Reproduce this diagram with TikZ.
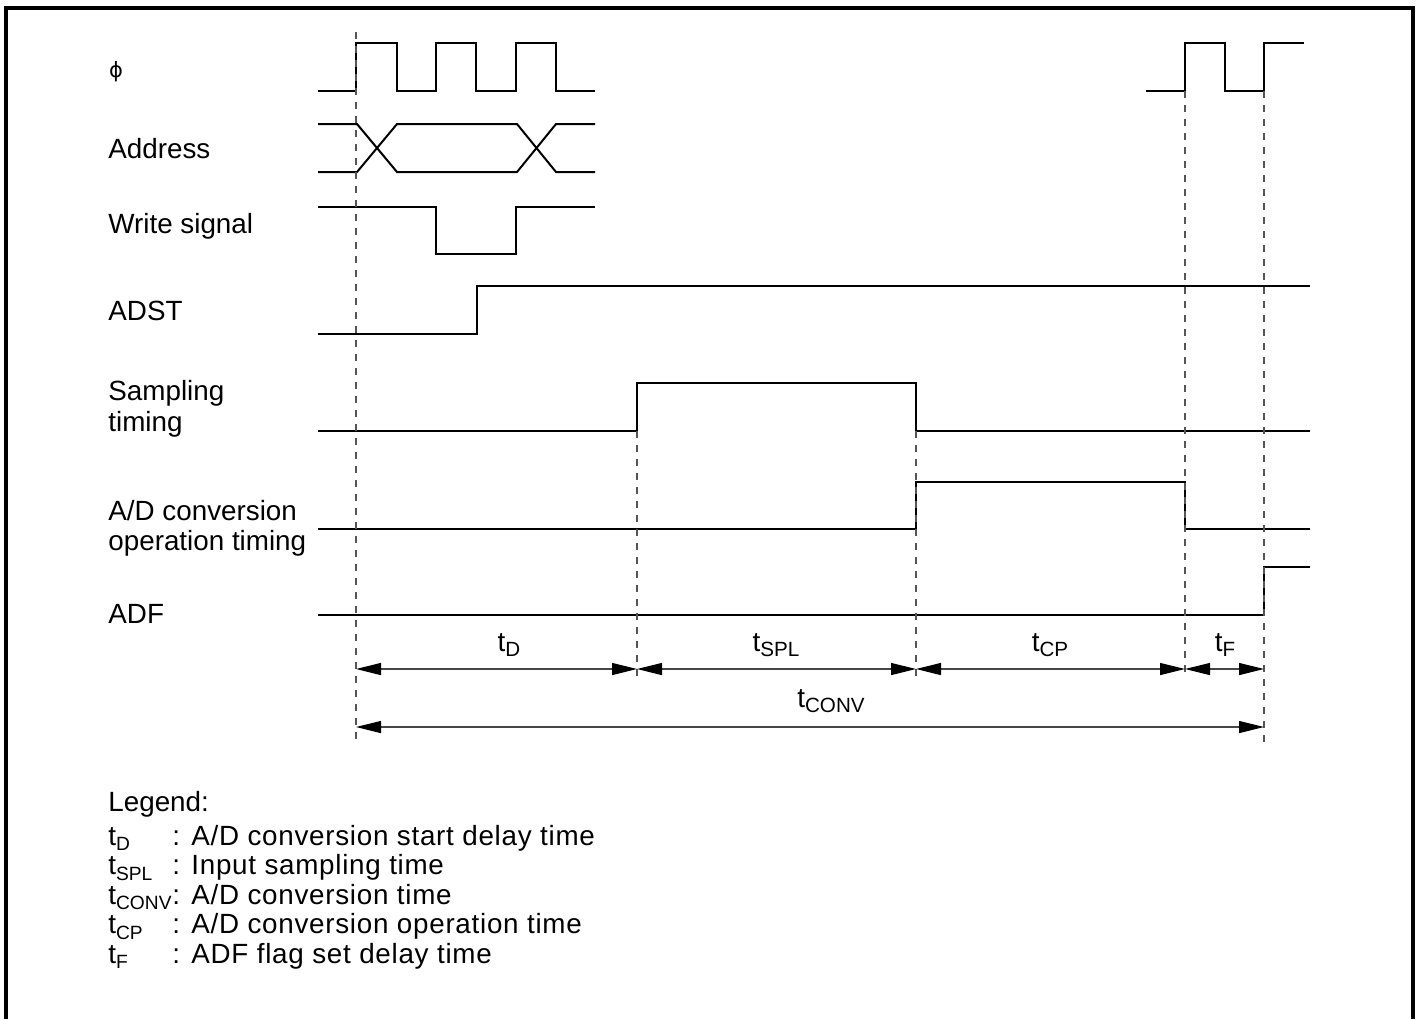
\documentclass[tikz,border=0pt]{standalone}
\usepackage{fontspec}
\setmainfont{Liberation Sans}
\newfontfamily\symfont{DejaVu Sans}
\newfontfamily\legfont[LetterSpace=2.6]{Liberation Sans}
\usepackage{xcolor}
\definecolor{guidegray}{RGB}{85,85,85}
\definecolor{dimgray}{RGB}{70,70,70}
\usetikzlibrary{arrows.meta}
\newcommand{\tsub}[1]{t\raisebox{-0.2em}{\fontsize{10.3}{12}\selectfont #1}}
\newcommand{\tleg}[1]{t\raisebox{-0.2em}{\fontsize{9.6}{12}\selectfont #1}}

\begin{document}
\begin{tikzpicture}[x=0.5pt, y=-0.5pt,
  sig/.style={line width=1pt, black},
  guide/.style={guidegray, line width=0.55pt, dash pattern=on 3.5pt off 3.5pt},
  dim/.style={dimgray, line width=0.6pt, {Triangle[length=12.5pt,width=6pt,black]}-{Triangle[length=12.5pt,width=6pt,black]}},
  lbl/.style={anchor=base west, inner sep=0pt, font=\fontsize{13.9}{15.5}\selectfont},
  tlbl/.style={anchor=base, inner sep=0pt, font=\fontsize{13.9}{15.5}\selectfont}]
  \useasboundingbox (0,0) rectangle (1417,1019);

  % Frame (open at the bottom)
  \draw[line width=1.75pt] (6,1019) -- (6,8) -- (1413,8) -- (1413,1019);

  % Signal names
  \node[inner sep=0pt, font=\symfont\fontsize{10.5}{12}\selectfont] (nPhi) at (116,72) {ϕ};
  \node[lbl] (nAddr) at (108,158) {Address};
  \node[lbl] (nWr) at (108,233) {Write signal};
  \node[lbl] (nAdst) at (108,320) {ADST};
  \node[lbl] (nSmpA) at (108,400) {Sampling};
  \node[lbl] (nSmpB) at (108,431) {timing};
  \node[lbl] (nConvA) at (108,520) {A/D conversion};
  \node[lbl] (nConvB) at (108,550) {operation timing};
  \node[lbl] (nAdf) at (108,623) {ADF};

  % Clock
  \draw[sig] (318,91) -- (356,91) -- (356,43) -- (397,43) -- (397,91) -- (436,91) -- (436,43)
    -- (476,43) -- (476,91) -- (516,91) -- (516,43) -- (556,43) -- (556,91) -- (595,91);
  \draw[sig] (1146,91) -- (1185,91) -- (1185,43) -- (1225,43) -- (1225,91) -- (1264,91)
    -- (1264,43) -- (1304,43);

  % Address
  \draw[sig] (318,124) -- (357,124) -- (397,172) -- (517,172) -- (556,124) -- (595,124);
  \draw[sig] (318,172) -- (357,172) -- (397,124) -- (517,124) -- (556,172) -- (595,172);

  % Write signal
  \draw[sig] (318,207) -- (436,207) -- (436,254) -- (516,254) -- (516,207) -- (595,207);

  % ADST
  \draw[sig] (318,334) -- (477,334) -- (477,286) -- (1310,286);

  % Sampling timing
  \draw[sig] (318,431) -- (637,431) -- (637,383) -- (916,383) -- (916,431) -- (1310,431);

  % A/D conversion operation timing
  \draw[sig] (318,529) -- (916,529) -- (916,482) -- (1185,482) -- (1185,529) -- (1310,529);

  % ADF
  \draw[sig] (318,615) -- (1264,615) -- (1264,567) -- (1310,567);

  % Guide lines
  \draw[guide] (356,32) -- (356,746);
  \draw[guide] (637,431) -- (637,677);
  \draw[guide] (916,431) -- (916,677);
  \draw[guide] (1185,91) -- (1185,672);
  \draw[guide] (1264,91) -- (1264,746);

  % Dimension points
  \coordinate (d0) at (356,669);
  \coordinate (d1) at (637,669);
  \coordinate (d2) at (916,669);
  \coordinate (d3) at (1185,669);
  \coordinate (d4) at (1264,669);
  \coordinate (c0) at (356,727);
  \coordinate (c1) at (1264,727);

  \draw[dim] (d0) -- (d1);
  \draw[dim] (d1) -- (d2);
  \draw[dim] (d2) -- (d3);
  \draw[dim] (d3) -- (d4);
  \draw[dim] (c0) -- (c1);

  \node[tlbl] (lD) at (509,651) {\tsub{D}};
  \node[tlbl] (lSPL) at (776,651) {\tsub{SPL}};
  \node[tlbl] (lCP) at (1050,651) {\tsub{CP}};
  \node[tlbl] (lF) at (1225,651) {\tsub{F}};
  \node[tlbl] (lCONV) at (831,707) {\tsub{CONV}};

  % Legend
  \node[lbl] (leg) at (108,811) {Legend:};
  \node[lbl] (kD) at (108,845) {\tleg{D}};
  \node[lbl] (kSPL) at (108,874.5) {\tleg{SPL}};
  \node[lbl] (kCONV) at (108,904) {\tleg{CONV}};
  \node[lbl] (kCP) at (108,933.5) {\tleg{CP}};
  \node[lbl] (kF) at (108,963) {\tleg{F}};
  \node[lbl, font=\legfont\fontsize{13.9}{15.5}\selectfont] (eD) at (172,845) {: A/D conversion start delay time};
  \node[lbl, font=\legfont\fontsize{13.9}{15.5}\selectfont] (eSPL) at (172,874.5) {: Input sampling time};
  \node[lbl, font=\legfont\fontsize{13.9}{15.5}\selectfont] (eCONV) at (172,904) {: A/D conversion time};
  \node[lbl, font=\legfont\fontsize{13.9}{15.5}\selectfont] (eCP) at (172,933.5) {: A/D conversion operation time};
  \node[lbl, font=\legfont\fontsize{13.9}{15.5}\selectfont] (eF) at (172,963) {: ADF flag set delay time};
\end{tikzpicture}
\end{document}
